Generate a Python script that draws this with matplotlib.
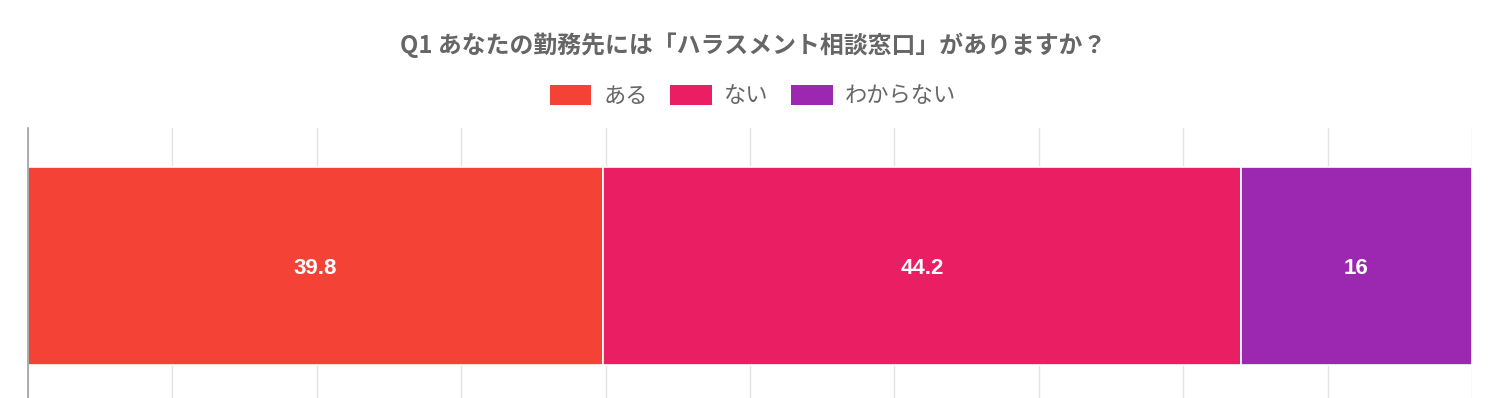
"""Stacked horizontal bar: harassment consultation desk survey (Q1)."""

import matplotlib
matplotlib.use("Agg")
import matplotlib.pyplot as plt
from matplotlib.patches import Patch

plt.rcParams["font.family"] = ["Noto Sans CJK JP", "DejaVu Sans"]

title = "Q1 あなたの勤務先には「ハラスメント相談窓口」がありますか？"
categories = ["Q1"]
labels = ["ある", "ない", "わからない"]
values = [39.8, 44.2, 16]
colors = ["#F44336", "#E91E63", "#9C27B0"]
grid_ticks = list(range(0, 101, 10))

W, H = 1506, 398
fig = plt.figure(figsize=(W / 100, H / 100), dpi=100)
ax = fig.add_axes([28 / W, 0, (1472 - 28) / W, (398 - 128) / H])

left = 0
for lab, val, col in zip(labels, values, colors):
    ax.barh(categories[0], val, left=left, height=0.72, color=col,
            edgecolor="white", linewidth=1.2, zorder=2)
    ax.text(left + val / 2, -0.01, f"{val:g}", ha="center", va="center",
            color="white", fontsize=16, fontweight="bold",
            family=["Liberation Sans", "DejaVu Sans"], zorder=3)
    left += val

ax.set_xlim(0, 100)
ax.set_ylim(-0.48, 0.5)
ax.set_xticks(grid_ticks)
ax.set_yticks([])
ax.tick_params(axis="x", length=0, labelbottom=False)
ax.grid(axis="x", color="#e3e3e3", linewidth=1, zorder=0)
for s in ["top", "right", "bottom"]:
    ax.spines[s].set_visible(False)
ax.spines["left"].set_color("#a0a0a0")
ax.spines["left"].set_linewidth(1.2)

fig.text(0.5, 1 - 45 / H, title, ha="center", va="center", color="#666666",
         fontsize=17.2, fontweight="bold")

handles = [Patch(facecolor=c, edgecolor="none") for c in colors]
fig.legend(handles, labels, loc="center", bbox_to_anchor=(0.5, 1 - 96 / H),
           ncol=3, frameon=False, fontsize=16, labelcolor="#666666",
           handlelength=1.88, handleheight=1.03, handletextpad=0.55,
           columnspacing=1.0)

fig.savefig("out.png", dpi=100)
plt.close(fig)
